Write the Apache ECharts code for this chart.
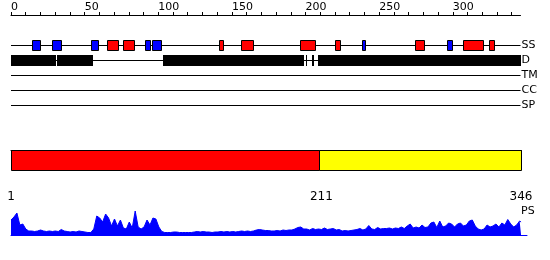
<!DOCTYPE html>
<html>
<head>
<meta charset="utf-8">
<script src="https://cdn.jsdelivr.net/npm/echarts@6/dist/echarts.min.js"></script>
<style>
html,body{margin:0;padding:0;background:#fff;}
#chart{width:550px;height:260px;}
</style>
</head>
<body>
<div id="chart"></div>
<script>
// ---- data ----
const seqLength = 346;
const tracks = ['SS', 'D', 'TM', 'CC', 'SP'];
const topTickLabels = [0, 50, 100, 150, 200, 250, 300];
const topMinorTicks = [0,10,20,30,40,50,60,70,80,90,100,110,120,130,140,150,160,170,180,190,200,210,220,230,240,250,260,270,280,290,300,310,320,330,340];

// secondary structure elements (H = helix, E = strand)
const ssStart = [14.8, 28.3, 54.8, 65.5, 76.4, 91.5, 96.1, 141.6, 156.5, 196.6, 220.3, 238.7, 274.7, 296.6, 307.3, 324.7];
const ssEnd   = [19.9, 34.3, 59.3, 73.2, 84.1, 94.6, 102.0, 144.1, 164.9, 206.6, 223.6, 240.6, 280.6, 299.7, 320.7, 328.2];
const ssType  = ['E','E','E','H','H','E','E','H','H','H','H','E','H','E','H','H'];

// disorder segments
const disStart = [0, 31.2, 103.2, 200.3, 204.6, 208.7];
const disEnd   = [30.6, 55.7, 198.8, 201.2, 205.8, 346];

// domains
const domStart = [1, 209.6];
const domEnd   = [209.6, 346];
const domTickValues = [1, 211, 346];

// PS profile
const psPos = [1,3,5,7,9,11,13,15,17,19,21,23,25,27,29,31,33,35,37,39,41,43,45,47,49,51,53,55,57,59,61,63,65,67,69,71,73,75,77,79,81,83,85,87,89,91,93,95,97,99,101,103,105,107,109,111,113,115,117,119,121,123,125,127,129,131,133,135,137,139,141,143,145,147,149,151,153,155,157,159,161,163,165,167,169,171,173,175,177,179,181,183,185,187,189,191,193,195,197,199,201,203,205,207,209,211,213,215,217,219,221,223,225,227,229,231,233,235,237,239,241,243,245,247,249,251,253,255,257,259,261,263,265,267,269,271,273,275,277,279,281,283,285,287,289,291,293,295,297,299,301,303,305,307,309,311,313,315,317,319,321,323,325,327,329,331,333,335,337,339,341,343,345,346];
const psVal = [15,18,22,10,11,6,4,4,3.5,4,5,4,3.5,4,3.5,4,3.5,5.5,4,3.5,3,3.5,3,4,3.5,3,2.5,2.5,6,19,17,13,21,17,9,16,9,15,7,6,13,7,24,8,6,8,15,10,17,16,8,3.5,2.5,2.5,2.5,3,3,2.5,2.5,2.5,2.5,2.5,3,3.5,3,3.5,3,3,2.5,3,3,3.5,3,3.5,3,3.5,3,3.5,4,3.5,4,3.5,4,5,5.5,5,4.5,4.5,4,4,4.5,4,5,4.5,5,5,6,7.5,8,6,6,5,6.5,5.5,6,5.5,7,5.5,6,6.5,5,5.5,4,4.5,4,4.5,5,5.5,6.5,5,6,9.5,6,5.5,7.5,6,6.5,6.5,7,6,7,6.5,8,6.5,9,11,7,8,7,10,7.5,8,12,13,7.5,14,8,9,12,11,8,11,12,9,10,14,15,9,6,5,6,10,8,9,11,8,12,10,15.5,11,8,10,14,13];

// ---- styles ----
const ssColors = { H: '#ff0000', E: '#0000ff' };
const domColors = ['#ff0000', '#ffff00'];
const FONT = 'DejaVu Sans';

function crisp(v) { return Math.round(v - 0.5) + 0.5; }

const chart = echarts.init(document.getElementById('chart'), null, { renderer: 'canvas' });

chart.setOption({
  animation: false,
  backgroundColor: '#fff',
  textStyle: { fontFamily: FONT },
  grid: [
    { left: 11, width: 509.5, top: 45, height: 60 },
    { left: 11, width: 510, top: 150, height: 30 },
    { left: 11, width: 516, top: 210, height: 25 }
  ],
  xAxis: [
    {
      gridIndex: 0, type: 'value', min: 0, max: seqLength, position: 'top', offset: 30,
      axisLine: { show: true, lineStyle: { color: '#000', width: 1 } },
      axisTick: { show: true, inside: false, length: 3, customValues: topMinorTicks, lineStyle: { color: '#000' } },
      axisLabel: { show: true, customValues: topTickLabels, align: 'left', margin: 2, fontSize: 11, color: '#000', fontFamily: FONT },
      splitLine: { show: false }
    },
    {
      gridIndex: 1, type: 'value', min: 1, max: seqLength, position: 'bottom',
      axisLine: { show: true, lineStyle: { color: '#000', width: 1 } },
      axisTick: { show: true, inside: false, length: 5, customValues: domTickValues, lineStyle: { color: '#000' } },
      axisLabel: { show: true, customValues: domTickValues, margin: 11, fontSize: 12, color: '#000', fontFamily: FONT },
      splitLine: { show: false }
    },
    {
      gridIndex: 2, type: 'value', min: 1, max: 350, position: 'bottom',
      axisLine: { show: true, lineStyle: { color: '#0000ff', width: 1 } },
      axisTick: { show: false }, axisLabel: { show: false }, splitLine: { show: false }
    }
  ],
  yAxis: [
    {
      gridIndex: 0, type: 'category', data: tracks, inverse: true, boundaryGap: false, position: 'right',
      axisLine: { show: false }, axisTick: { show: false },
      axisLabel: { show: true, margin: 1, fontSize: 11, color: '#000', fontFamily: FONT },
      splitLine: { show: true, lineStyle: { color: '#000', width: 1 } }
    },
    {
      gridIndex: 1, type: 'value', min: 0, max: 30, inverse: true, show: false
    },
    {
      gridIndex: 2, type: 'value', min: 0, max: 25, position: 'right', offset: -6,
      axisLine: { show: false }, axisTick: { show: false }, axisLabel: { show: false }, splitLine: { show: false },
      name: 'PS', nameLocation: 'end', nameGap: -1,
      nameTextStyle: { align: 'left', verticalAlign: 'middle', fontSize: 11, color: '#000', fontFamily: FONT }
    }
  ],
  series: [
    {
      type: 'custom', xAxisIndex: 0, yAxisIndex: 0, clip: false,
      data: disStart.map((s, i) => [s, disEnd[i]]),
      renderItem: function (params, api) {
        const p0 = api.coord([api.value(0), 1]);
        const p1 = api.coord([api.value(1), 1]);
        const x0 = Math.round(p0[0]), x1 = Math.max(Math.round(p1[0]), x0 + 1);
        return { type: 'rect', shape: { x: x0, y: Math.round(p0[1]) - 5, width: x1 - x0, height: 11 }, style: { fill: '#000' } };
      }
    },
    {
      type: 'custom', xAxisIndex: 0, yAxisIndex: 0, clip: false,
      data: ssStart.map((s, i) => [s, ssEnd[i]]),
      renderItem: function (params, api) {
        const p0 = api.coord([api.value(0), 0]);
        const p1 = api.coord([api.value(1), 0]);
        const x0 = crisp(p0[0]), x1 = crisp(p1[0]);
        const yc = Math.round(p0[1]);
        return {
          type: 'rect',
          shape: { x: x0, y: yc - 4.5, width: x1 - x0, height: 10 },
          style: { fill: ssColors[ssType[params.dataIndex]], stroke: '#000', lineWidth: 1 }
        };
      }
    },
    {
      type: 'custom', xAxisIndex: 1, yAxisIndex: 1, clip: false,
      data: domStart.map((s, i) => [s, domEnd[i]]),
      renderItem: function (params, api) {
        const p0 = api.coord([api.value(0), 0]);
        const p1 = api.coord([api.value(1), 20]);
        const x0 = crisp(p0[0]), x1 = crisp(p1[0]);
        return {
          type: 'rect',
          shape: { x: x0, y: crisp(p0[1]), width: x1 - x0, height: 20 },
          style: { fill: domColors[params.dataIndex], stroke: '#000', lineWidth: 1 }
        };
      }
    },
    {
      type: 'line', xAxisIndex: 2, yAxisIndex: 2,
      data: psPos.map((p, i) => [p, psVal[i]]),
      symbol: 'none', showSymbol: false,
      lineStyle: { color: '#0000ff', width: 1 },
      areaStyle: { color: '#0000ff', opacity: 1 }
    }
  ]
});
</script>
</body>
</html>
